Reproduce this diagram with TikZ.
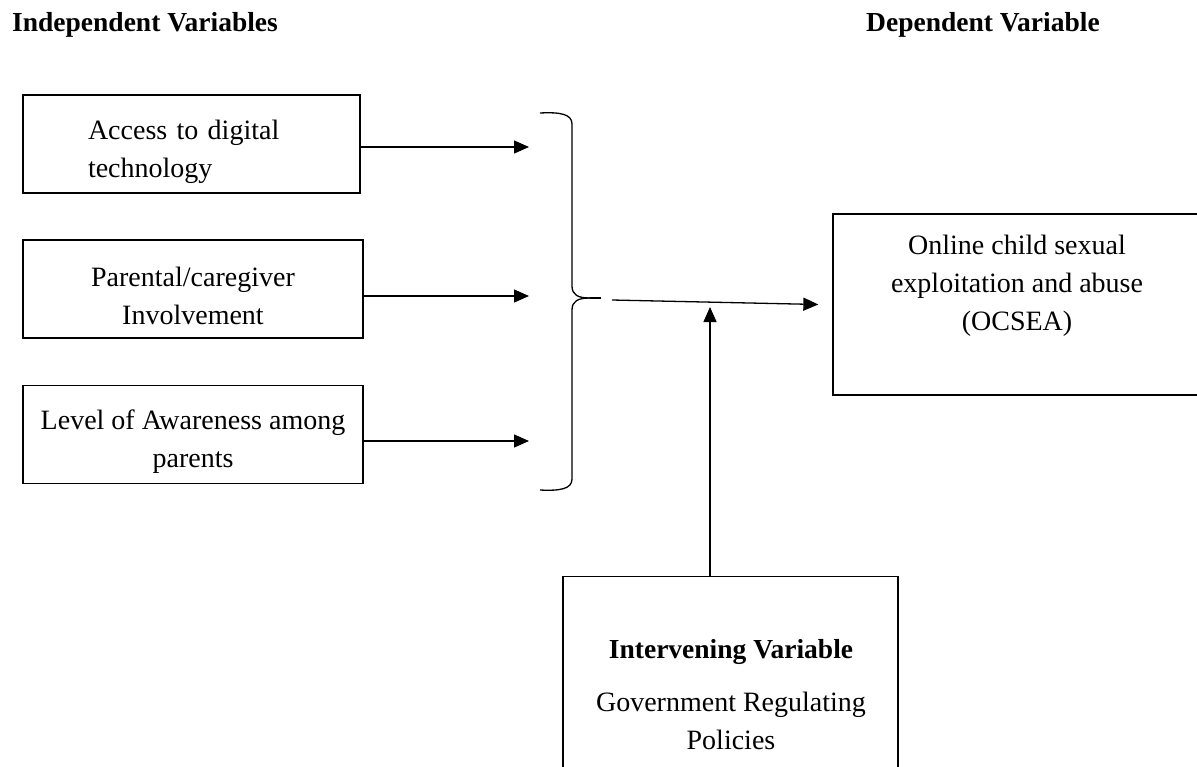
\documentclass[tikz,border=0pt]{standalone}
\usepackage{fontspec}
\setmainfont{Liberation Serif}
\usetikzlibrary{arrows.meta}
\begin{document}
\begin{tikzpicture}[x=1pt,y=-1pt,
  font=\fontsize{28}{38}\selectfont,
  box/.style={draw, line width=1.3pt, inner sep=0pt},
  conn/.style={line width=1.3pt, -{Triangle[length=15pt,width=13pt]}},
  title/.style={anchor=base west, inner sep=0pt, font=\fontsize{27.5}{38}\selectfont\bfseries},
  txt/.style={align=center, inner sep=0pt}
]
\useasboundingbox (0,0) rectangle (1197,766);
\fill[white] (0,0) rectangle (1197,766);
\clip (0,0) rectangle (1197,766);

\node[title] (tind) at (12,31) {Independent Variables};
\node[title] (tdep) at (866,31) {Dependent Variable};

\node[box, minimum width=337pt, minimum height=98pt] (b1) at (191.5,144) {};
\node[txt, text width=207pt, align=left] (b1t) at (191.5,152) {Access to digital\\technology};
\node[box, minimum width=340pt, minimum height=98pt] (b2) at (193,289) {};
\node[txt] (b2t) at (193,296) {Parental/caregiver\\Involvement};
\node[box, minimum width=340pt, minimum height=98pt] (b3) at (193,434.5) {};
\node[txt] (b3t) at (193,442) {Level of Awareness among\\parents};

\coordinate (a1) at (529,147);
\coordinate (a2) at (529,296);
\coordinate (a3) at (529,441);
\draw[conn] (b1.east |- a1) -- (a1);
\draw[conn] (b2.east |- a2) -- (a2);
\draw[conn] (b3.east |- a3) -- (a3);

% brace
\coordinate (tip) at (590,298);
\draw[line width=1.3pt] (540,113) .. controls (560,112) and (572,114) .. (572,124) -- (572,286) .. controls (572,295) and (578,298) .. (tip);
\draw[line width=1.3pt] (540,490) .. controls (560,491) and (572,489) .. (572,479) -- (572,310) .. controls (572,301) and (578,298) .. (tip);
\coordinate (tipend) at (601,298);
\draw[line width=1.3pt] (tip) -- (tipend);

\node[box, minimum width=368pt, minimum height=181pt] (ocsea) at (1017,304.5) {};
\node[txt] (ocseat) at (1017,286) {Online child sexual\\exploitation and abuse\\(OCSEA)};

\coordinate (bt) at (612,300);
\draw[conn] (bt) -- ([xshift=-14pt]ocsea.west);

\node[box, minimum width=335pt, minimum height=300pt, anchor=north] (iv) at (730.5,576) {};
\node[txt, font=\fontsize{27.5}{38}\selectfont\bfseries] (ivt1) at (731,652) {Intervening Variable};
\node[txt] (ivt2) at (731,721) {Government Regulating\\Policies};

\coordinate (vt) at (710,307);
\draw[conn] (iv.north -| vt) -- (vt);
\end{tikzpicture}
\end{document}
